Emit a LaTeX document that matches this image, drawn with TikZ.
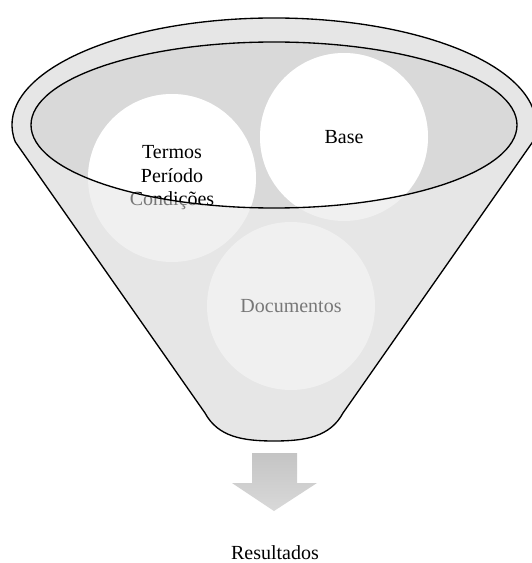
\documentclass[tikz,border=0pt]{standalone}
\usepackage{fontspec}
\setmainfont{Liberation Serif}
\usetikzlibrary{positioning}
\definecolor{funnelgray}{HTML}{E6E6E6}
\definecolor{mouthgray}{HTML}{D9D9D9}

\begin{document}
\begin{tikzpicture}[x=0.75pt,y=-0.75pt,
	ball/.style={circle, fill=white, minimum size=126pt, inner sep=0pt, align=center,
		font=\fontsize{15}{17.6}\selectfont},
	faded/.style={ball, fill opacity=0.4, text opacity=0.5},
	rim/.style={black, line width=1pt}]
		\useasboundingbox (0,0) rectangle (531,563);
		
		\draw[rim, fill=funnelgray] (15.3,141.9) arc[start angle=170.9, end angle=369.1, x radius=262, y radius=107]
			-- (343,413) .. controls (330,437) and (305,441) .. (274,441)
			.. controls (243,441) and (218,437) .. (205,413) -- cycle;
		\fill[mouthgray] (274,125) ellipse [x radius=243, y radius=83];
		
		\node[faded] (termos) at (172,178) {Termos\\Período\\Condições};
		\node[faded] (base) at (344,137) {Base};
		\node[faded] (docs) at (291,306) {Documentos};
		
		\begin{scope}
			\clip (274,125) ellipse [x radius=243, y radius=83];
			\node[ball] (termos-in) at (termos) {Termos\\Período\\Condições};
			\node[ball] (base-in) at (base) {Base};
		\end{scope}
		\draw[rim] (274,125) ellipse [x radius=243, y radius=83];
		
		\shade[top color=black!23, bottom color=black!15]
			(252,453) -- (297,453) -- (297,483) -- (317,483) -- (274,511)
			-- (232,483) -- (252,483) -- cycle;
		\node[anchor=base, inner sep=0pt, font=\fontsize{15}{18}\selectfont] (res) at (275,559) {Resultados};
	\end{tikzpicture}
\end{document}
